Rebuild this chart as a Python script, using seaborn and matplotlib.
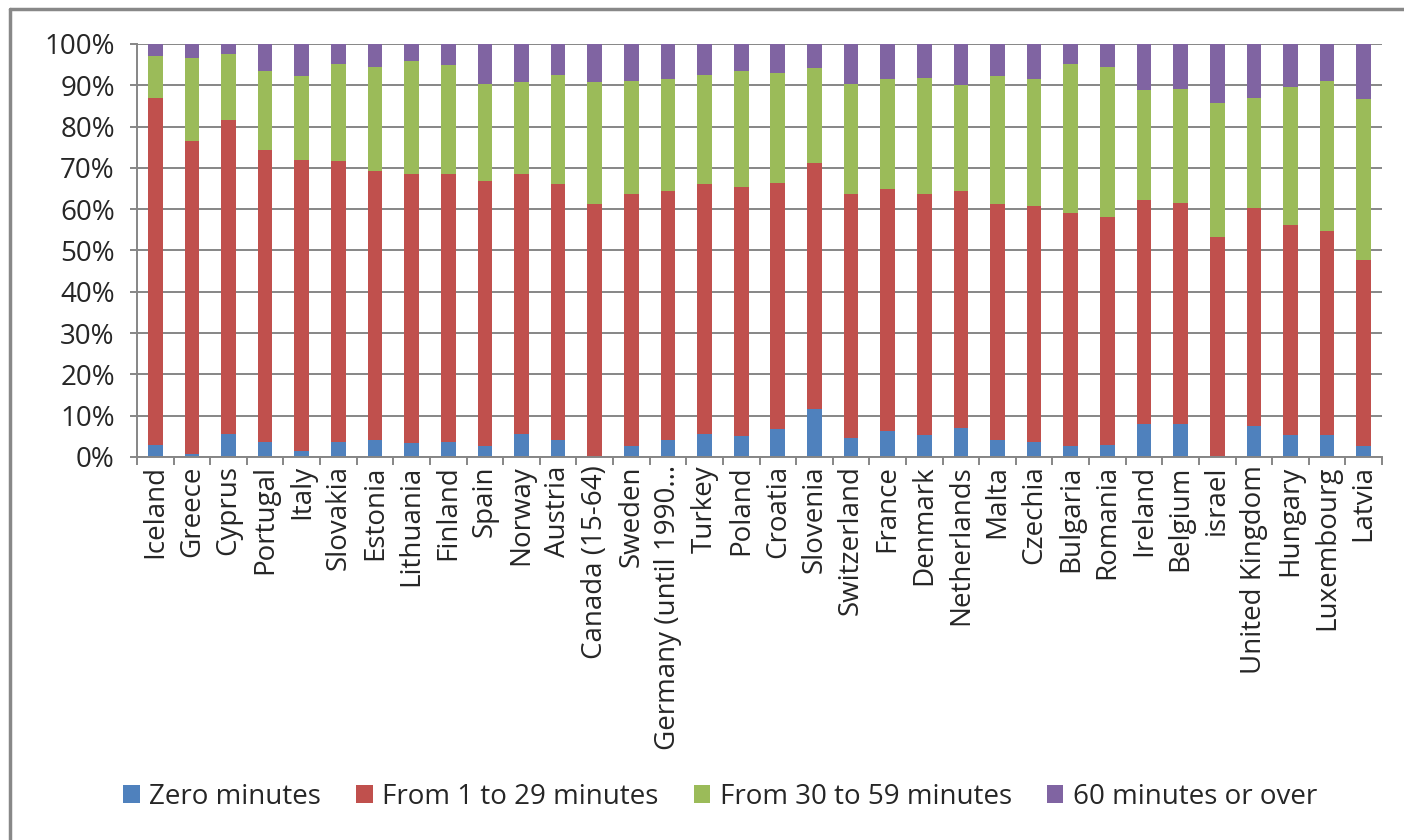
import matplotlib
matplotlib.use("Agg")
import matplotlib.pyplot as plt
from matplotlib.patches import Patch
from matplotlib.lines import Line2D
import numpy as np
import seaborn as sns

countries = [
    "Iceland", "Greece", "Cyprus", "Portugal", "Italy", "Slovakia", "Estonia",
    "Lithuania", "Finland", "Spain", "Norway", "Austria", "Canada (15-64)",
    "Sweden", "Germany (until 1990...", "Turkey", "Poland", "Croatia", "Slovenia",
    "Switzerland", "France", "Denmark", "Netherlands", "Malta", "Czechia",
    "Bulgaria", "Romania", "Ireland", "Belgium", "israel", "United Kingdom",
    "Hungary", "Luxembourg", "Latvia",
]

# Share of people (%) by time spent, one list per duration class
zero_minutes = [3.0, 0.7, 5.6, 3.6, 1.5, 3.6, 4.1, 3.3, 3.6, 2.7, 5.6, 4.1, 0.0,
                2.7, 4.1, 5.6, 5.2, 6.7, 11.6, 4.5, 6.4, 5.3, 7.1, 4.1, 3.7,
                2.7, 3.0, 7.9, 7.9, 0.3, 7.5, 5.3, 5.3, 2.7]
from_1_to_29 = [84.0, 75.8, 75.9, 70.7, 70.5, 68.0, 65.2, 65.3, 65.0, 64.1, 63.0,
                61.9, 61.2, 61.1, 60.4, 60.4, 60.1, 59.6, 59.6, 59.3, 58.5, 58.5,
                57.4, 57.1, 57.1, 56.5, 55.1, 54.4, 53.7, 53.0, 52.9, 50.9, 49.5,
                45.0]
from_30_to_59 = [10.1, 20.2, 16.0, 19.1, 20.2, 23.6, 25.1, 27.4, 26.2, 23.6, 22.2,
                 26.6, 29.6, 27.3, 27.0, 26.6, 28.1, 26.7, 22.9, 26.6, 26.6, 28.0,
                 25.5, 31.0, 30.7, 36.0, 36.4, 26.6, 27.6, 32.3, 26.6, 33.5, 36.3,
                 38.9]
sixty_or_over = [2.9, 3.3, 2.5, 6.6, 7.8, 4.8, 5.6, 4.0, 5.2, 9.6, 9.2, 7.4, 9.2,
                 8.9, 8.5, 7.4, 6.6, 7.0, 5.9, 9.6, 8.5, 8.2, 10.0, 7.8, 8.5, 4.8,
                 5.5, 11.1, 10.8, 14.4, 13.0, 10.3, 8.9, 13.4]

series_names = ["Zero minutes", "From 1 to 29 minutes",
                "From 30 to 59 minutes", "60 minutes or over"]
series_values = [zero_minutes, from_1_to_29, from_30_to_59, sixty_or_over]
series_colors = ["#4F81BD", "#C0504D", "#9BBB59", "#8064A2"]

sns.set_theme(style="white")
plt.rcParams["font.family"] = ["Open Sans", "DejaVu Sans"]
FS = 20

fig = plt.figure(figsize=(14.04, 8.4), dpi=100)
ax = fig.add_axes([137 / 1404, 1 - 457 / 840, (1382 - 137) / 1404, (457 - 44) / 840])

# Normalise each country to 100% and stack the classes
data = np.array(series_values, dtype=float)
data = data / data.sum(axis=0) * 100.0
bottom = np.zeros(len(countries))
for name, vals, col in zip(series_names, data, series_colors):
    sns.barplot(x=countries, y=vals, bottom=bottom, color=col, width=0.4,
                linewidth=0, saturation=1, ax=ax, zorder=3)
    bottom = bottom + vals

grid_col = "#868686"
ax.set_ylim(0, 100)
ax.set_xlim(-0.5, len(countries) - 0.5)
ax.set_yticks(np.arange(0, 101, 10))
ax.set_yticklabels([f"{v}%" for v in range(0, 101, 10)], fontsize=FS)
ax.yaxis.grid(True, color=grid_col, linewidth=1.4, zorder=0)
ax.xaxis.grid(False)

ax.set_xticks(np.arange(len(countries)))
ax.set_xticklabels(countries, rotation=90, fontsize=FS)
ax.tick_params(axis="x", which="major", length=0, pad=6)
ax.set_xticks(np.arange(-0.5, len(countries)), minor=True)
ax.tick_params(axis="x", which="minor", length=6, width=1.4, color=grid_col,
               direction="out", bottom=True)
ax.tick_params(axis="y", which="major", length=5, width=1.4, color=grid_col,
               direction="out", left=True, pad=11)
ax.set_xlabel("")
ax.set_ylabel("")

for side in ["top", "right"]:
    ax.spines[side].set_visible(False)
for side in ["left", "bottom"]:
    ax.spines[side].set_color(grid_col)
    ax.spines[side].set_linewidth(1.4)
    ax.spines[side].set_zorder(4)

handles = [Patch(facecolor=c, edgecolor="none", label=n)
           for n, c in zip(series_names, series_colors)]
fig.legend(handles=handles, loc="center", bbox_to_anchor=(0.513, 1 - 797 / 840),
           ncol=4, frameon=False, fontsize=FS, handlelength=0.6,
           handleheight=0.6, handletextpad=0.35, columnspacing=1.25)

# Chart area outline
fig.add_artist(Line2D([10 / 1404, 10 / 1404], [0, 1 - 9 / 840],
                      transform=fig.transFigure, color="#888888", linewidth=2.5))
fig.add_artist(Line2D([10 / 1404, 1], [1 - 9 / 840, 1 - 9 / 840],
                      transform=fig.transFigure, color="#888888", linewidth=2.5))

fig.savefig("out.png", dpi=100, facecolor="white")
